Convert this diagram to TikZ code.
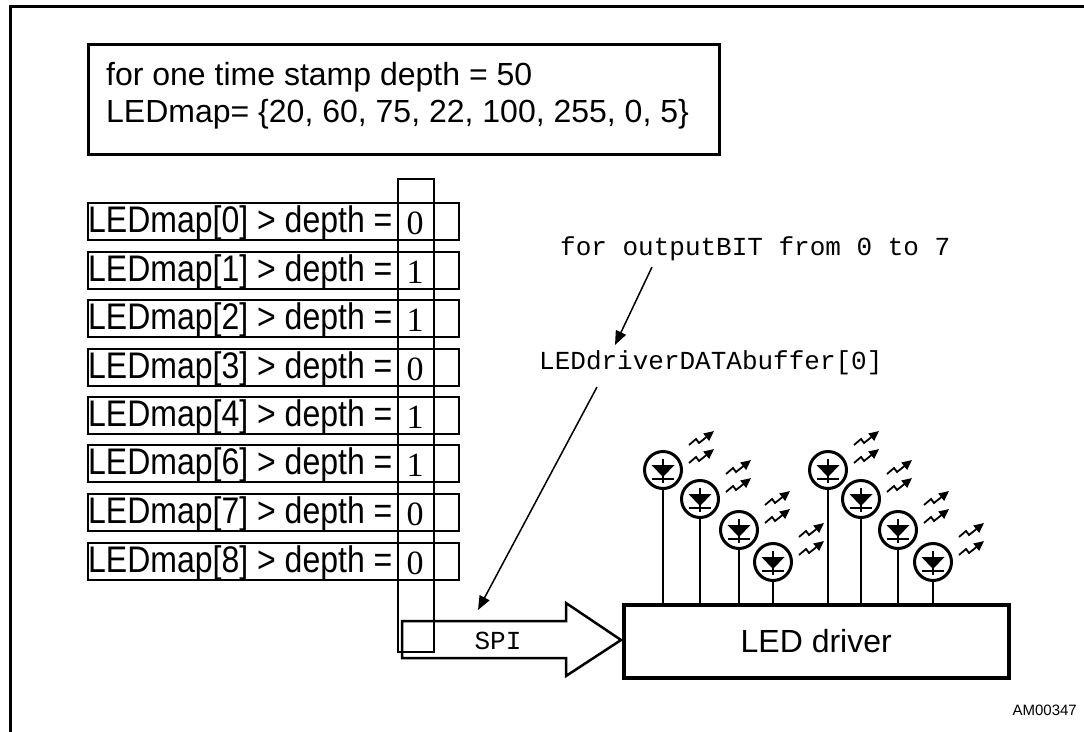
\documentclass[tikz,border=0pt]{standalone}
\usepackage{fontspec}
\setmainfont{Liberation Sans}
\newfontfamily\condsans[FakeStretch=0.865]{Liberation Sans}
\newfontfamily\monofont{Liberation Mono}
\newfontfamily\digfont{Liberation Serif}
\usetikzlibrary{arrows.meta}
\begin{document}
\begin{tikzpicture}[x=1pt,y=-1pt,
  framestyle/.style={line width=3pt},
  txtbox/.style={draw, line width=3pt, anchor=north west, inner sep=0},
  rowbox/.style={draw, line width=2pt, minimum width=371pt, minimum height=37pt, anchor=north west, inner sep=0},
  rowtxt/.style={font=\condsans\fontsize{37}{40}\selectfont, anchor=base west, inner sep=0},
  bigtxt/.style={font=\fontsize{32}{36}\selectfont, anchor=base west, inner sep=0},
  bit/.style={font=\digfont\fontsize{34}{36}\selectfont, anchor=base, inner sep=0},
  mono/.style={font=\monofont\fontsize{26}{28}\selectfont, anchor=base west, inner sep=0},
  ledring/.style={draw, circle, line width=3pt, minimum size=37pt, inner sep=0},
  ptr/.style={line width=1.5pt, -{Triangle[length=14pt,width=11pt]}},
  ray/.style={line width=1.8pt, -{Triangle[length=10pt,width=9pt]}}]
\useasboundingbox (0,0) rectangle (1084,731);
% outer frame
\draw[framestyle] (10,740) -- (10,6) -- (1090,6);
% top box
\node[txtbox, minimum width=631pt, minimum height=110pt] (topbox) at (87,43) {};
\node[bigtxt] (line1) at (106,85) {for one time stamp depth = 50};
\node[bigtxt] (line2) at (106,122) {LEDmap= \{20, 60, 75, 22, 100, 255, 0, 5\}};
% column
\node[draw, line width=2pt, minimum width=36pt, minimum height=473pt, anchor=north west, inner sep=0] (col) at (397,178) {};
% rows
\foreach \i/\lab/\b/\t in {0/0/0/202, 1/1/1/251, 2/2/1/299, 3/3/0/348, 4/4/1/396, 5/6/1/444, 6/7/0/493, 7/8/0/542} {
  \node[rowbox] (row\i) at (87,\t) {};
  \node[rowtxt] (rowlab\i) at (88,\t+30) {LEDmap[\lab] > depth =};
  \node[bit] (bit\i) at (415,\t+32) {\b};
}
% SPI arrow
\draw[line width=2.5pt] (402,621) -- (566,621) -- (566,603) -- (621,640) -- (566,676) -- (566,658) -- (402,658) -- cycle;
\node[mono, anchor=center] (spi) at (498,641) {SPI};
% LED driver
\node[draw, line width=3.5pt, minimum width=385pt, minimum height=73pt, anchor=north west, inner sep=0] (drv) at (622,603) {};
\node[font=\fontsize{32}{36}\selectfont] (drvtxt) at (drv.center) {LED driver};
% LEDs
\foreach \i/\cx/\cy in {1/663/470, 2/700/499, 3/739/530, 4/773/562, 5/828/470, 6/861/499, 7/898/530, 8/933/562} {
  \node[ledring] (led\i) at (\cx,\cy) {};
  \draw[line width=2.5pt] (led\i.south) -- (led\i.south |- drv.north);
  \fill (\cx-11.5,\cy-5) -- (\cx+11.5,\cy-5) -- (\cx,\cy+7) -- cycle;
  \draw[line width=2pt] (\cx,\cy-11) -- (\cx,\cy+13);
  \draw[line width=1.5pt] (\cx-11,\cy+9) -- (\cx+11,\cy+9);
  \draw[ray] (\cx+26,\cy-25) -- ++(7,-6) -- ++(3,4) -- ++(15,-12);
  \draw[ray] (\cx+26,\cy-7) -- ++(7,-6) -- ++(3,4) -- ++(15,-12);
}
% code labels
\node[mono] (forbit) at (560,255) {for outputBIT from 0 to 7};
\node[mono] (buf) at (539,369) {LEDdriverDATAbuffer[0]};
\coordinate (p1s) at (652,267);
\coordinate (p1e) at (615,345);
\coordinate (p2s) at (597,387);
\coordinate (p2e) at (478,610);
\draw[ptr] (p1s) -- (p1e);
\draw[ptr] (p2s) -- (p2e);
% figure id
\node[font=\fontsize{15}{17}\selectfont, anchor=base east, inner sep=0] (amid) at (1077,715) {AM00347};
\end{tikzpicture}
\end{document}
